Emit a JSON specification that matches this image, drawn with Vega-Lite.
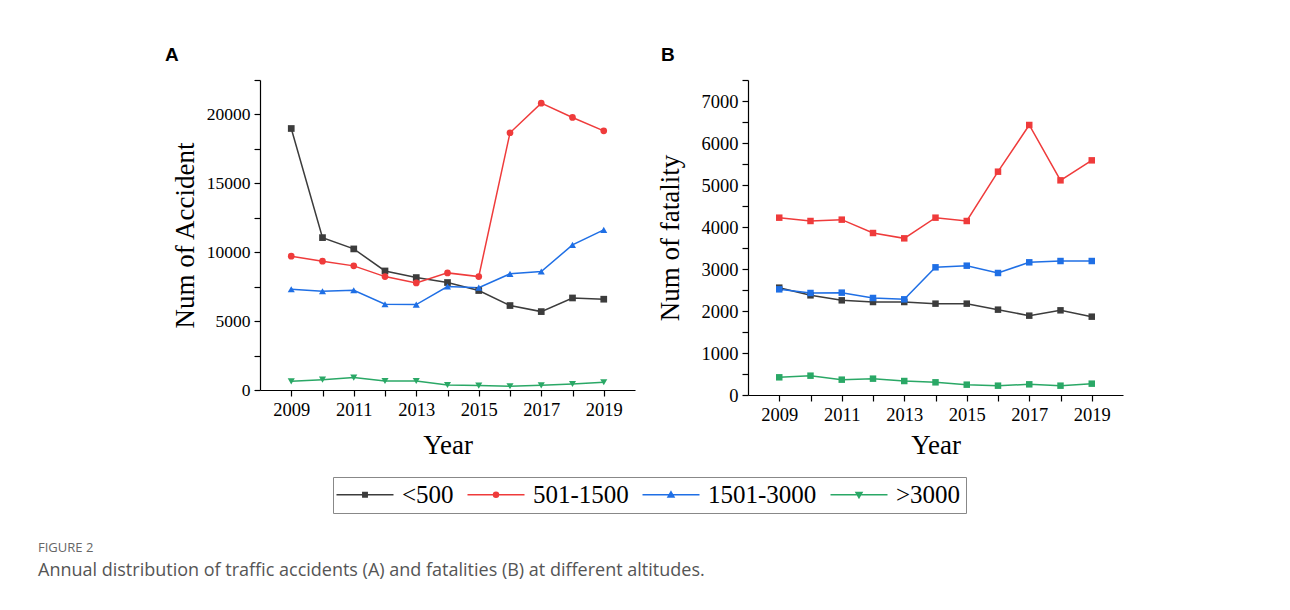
{
  "$schema": "https://vega.github.io/schema/vega-lite/v6.json",
  "background": "white",
  "padding": {"left": 38, "top": 46, "right": 10, "bottom": 20},
  "datasets": {
    "accident": [
      {"year": 2009, "group": "<500", "value": 18980},
      {"year": 2010, "group": "<500", "value": 11060},
      {"year": 2011, "group": "<500", "value": 10240},
      {"year": 2012, "group": "<500", "value": 8640},
      {"year": 2013, "group": "<500", "value": 8160},
      {"year": 2014, "group": "<500", "value": 7800},
      {"year": 2015, "group": "<500", "value": 7220},
      {"year": 2016, "group": "<500", "value": 6130},
      {"year": 2017, "group": "<500", "value": 5690},
      {"year": 2018, "group": "<500", "value": 6680},
      {"year": 2019, "group": "<500", "value": 6590},
      {"year": 2009, "group": "501-1500", "value": 9710},
      {"year": 2010, "group": "501-1500", "value": 9350},
      {"year": 2011, "group": "501-1500", "value": 9010},
      {"year": 2012, "group": "501-1500", "value": 8230},
      {"year": 2013, "group": "501-1500", "value": 7770},
      {"year": 2014, "group": "501-1500", "value": 8500},
      {"year": 2015, "group": "501-1500", "value": 8230},
      {"year": 2016, "group": "501-1500", "value": 18670},
      {"year": 2017, "group": "501-1500", "value": 20820},
      {"year": 2018, "group": "501-1500", "value": 19780},
      {"year": 2019, "group": "501-1500", "value": 18810},
      {"year": 2009, "group": "1501-3000", "value": 7310},
      {"year": 2010, "group": "1501-3000", "value": 7170},
      {"year": 2011, "group": "1501-3000", "value": 7240},
      {"year": 2012, "group": "1501-3000", "value": 6220},
      {"year": 2013, "group": "1501-3000", "value": 6200},
      {"year": 2014, "group": "1501-3000", "value": 7510},
      {"year": 2015, "group": "1501-3000", "value": 7430},
      {"year": 2016, "group": "1501-3000", "value": 8430},
      {"year": 2017, "group": "1501-3000", "value": 8600},
      {"year": 2018, "group": "1501-3000", "value": 10530},
      {"year": 2019, "group": "1501-3000", "value": 11620},
      {"year": 2009, "group": ">3000", "value": 630},
      {"year": 2010, "group": ">3000", "value": 750},
      {"year": 2011, "group": ">3000", "value": 900},
      {"year": 2012, "group": ">3000", "value": 650},
      {"year": 2013, "group": ">3000", "value": 650},
      {"year": 2014, "group": ">3000", "value": 360},
      {"year": 2015, "group": ">3000", "value": 320},
      {"year": 2016, "group": ">3000", "value": 270},
      {"year": 2017, "group": ">3000", "value": 340},
      {"year": 2018, "group": ">3000", "value": 440},
      {"year": 2019, "group": ">3000", "value": 560}
    ],
    "fatality": [
      {"year": 2009, "group": "<500", "value": 2556},
      {"year": 2010, "group": "<500", "value": 2373},
      {"year": 2011, "group": "<500", "value": 2254},
      {"year": 2012, "group": "<500", "value": 2214},
      {"year": 2013, "group": "<500", "value": 2214},
      {"year": 2014, "group": "<500", "value": 2175},
      {"year": 2015, "group": "<500", "value": 2175},
      {"year": 2016, "group": "<500", "value": 2032},
      {"year": 2017, "group": "<500", "value": 1889},
      {"year": 2018, "group": "<500", "value": 2016},
      {"year": 2019, "group": "<500", "value": 1865},
      {"year": 2009, "group": "501-1500", "value": 4222},
      {"year": 2010, "group": "501-1500", "value": 4143},
      {"year": 2011, "group": "501-1500", "value": 4175},
      {"year": 2012, "group": "501-1500", "value": 3857},
      {"year": 2013, "group": "501-1500", "value": 3730},
      {"year": 2014, "group": "501-1500", "value": 4222},
      {"year": 2015, "group": "501-1500", "value": 4143},
      {"year": 2016, "group": "501-1500", "value": 5317},
      {"year": 2017, "group": "501-1500", "value": 6429},
      {"year": 2018, "group": "501-1500", "value": 5111},
      {"year": 2019, "group": "501-1500", "value": 5587},
      {"year": 2009, "group": "1501-3000", "value": 2516},
      {"year": 2010, "group": "1501-3000", "value": 2429},
      {"year": 2011, "group": "1501-3000", "value": 2437},
      {"year": 2012, "group": "1501-3000", "value": 2310},
      {"year": 2013, "group": "1501-3000", "value": 2278},
      {"year": 2014, "group": "1501-3000", "value": 3040},
      {"year": 2015, "group": "1501-3000", "value": 3079},
      {"year": 2016, "group": "1501-3000", "value": 2905},
      {"year": 2017, "group": "1501-3000", "value": 3159},
      {"year": 2018, "group": "1501-3000", "value": 3190},
      {"year": 2019, "group": "1501-3000", "value": 3190},
      {"year": 2009, "group": ">3000", "value": 421},
      {"year": 2010, "group": ">3000", "value": 460},
      {"year": 2011, "group": ">3000", "value": 365},
      {"year": 2012, "group": ">3000", "value": 389},
      {"year": 2013, "group": ">3000", "value": 333},
      {"year": 2014, "group": ">3000", "value": 302},
      {"year": 2015, "group": ">3000", "value": 246},
      {"year": 2016, "group": ">3000", "value": 222},
      {"year": 2017, "group": ">3000", "value": 254},
      {"year": 2018, "group": ">3000", "value": 222},
      {"year": 2019, "group": ">3000", "value": 270}
    ]
  },
  "title": {
    "text": "FIGURE 2",
    "subtitle": "Annual distribution of traffic accidents (A) and fatalities (B) at different altitudes.",
    "orient": "bottom",
    "anchor": "start",
    "frame": "bounds",
    "dx": -127,
    "offset": 28,
    "font": "Open Sans",
    "fontSize": 13,
    "fontWeight": "normal",
    "color": "#666666",
    "subtitleFont": "Open Sans",
    "subtitleFontSize": 18,
    "subtitleColor": "#555555",
    "subtitlePadding": 7
  },
  "spacing": 21,
  "hconcat": [
    {
      "width": 375,
      "height": 310,
      "title": {"text": "A", "anchor": "start", "frame": "group", "dx": -95, "offset": 14, "font": "Liberation Sans", "fontSize": 19, "fontWeight": "bold", "color": "black"},
      "data": {"name": "accident"},
      "encoding": {
        "x": {"field": "year", "type": "quantitative", "scale": {"domain": [2008, 2020], "nice": false, "zero": false},
          "axis": {"title": "Year", "values": [2009, 2010, 2011, 2012, 2013, 2014, 2015, 2016, 2017, 2018, 2019], "labelExpr": "datum.value % 2 === 1 ? datum.label : ''", "format": "d", "titlePadding": 14}},
        "y": {"field": "value", "type": "quantitative", "scale": {"domain": [0, 22500], "nice": false},
          "axis": {"title": "Num of Accident", "values": [0, 2500, 5000, 7500, 10000, 12500, 15000, 17500, 20000, 22500], "labelExpr": "datum.value % 5000 === 0 ? datum.label : ''", "format": "d", "titlePadding": 7, "labelFontSize": 17.5}},
        "color": {"field": "group", "type": "nominal",
          "scale": {"domain": ["<500", "501-1500", "1501-3000", ">3000"], "range": ["#3c3c3c", "#ef3b3b", "#1f6fe5", "#2aa866"]},
          "legend": {
            "title": null,
            "orient": "none",
            "legendX": 73,
            "legendY": 397,
            "direction": "horizontal",
            "encode": {"symbols": {"update": {
              "shape": {"signal": "datum.value === '<500' ? 'M-1.4,0H4.3M1.23,-0.22H1.67V0.22H1.23Z' : datum.value === '501-1500' ? 'M-1.4,0H4.3M1.7,0A0.25,0.25,0,1,1,1.2,0A0.25,0.25,0,1,1,1.7,0Z' : datum.value === '1501-3000' ? 'M-1.4,0H4.3M1.45,-0.3L1.75,0.22L1.15,0.22Z' : 'M-1.4,0H4.3M1.45,0.3L1.75,-0.22L1.15,-0.22Z'"},
              "fill": {"signal": "scale('color', datum.value)"},
              "stroke": {"signal": "scale('color', datum.value)"},
              "strokeWidth": {"value": 1.5},
              "opacity": {"value": 1}
            }}}
          }}
      },
      "layer": [
        {"mark": {"type": "line", "strokeWidth": 1.5}},
        {"transform": [{"filter": "datum.group === '<500'"}], "mark": {"type": "point", "filled": true, "opacity": 1, "size": 45, "shape": "square"}},
        {"transform": [{"filter": "datum.group === '501-1500'"}], "mark": {"type": "point", "filled": true, "opacity": 1, "size": 45, "shape": "circle"}},
        {"transform": [{"filter": "datum.group === '1501-3000'"}], "mark": {"type": "point", "filled": true, "opacity": 1, "size": 50, "shape": "triangle-up"}},
        {"transform": [{"filter": "datum.group === '>3000'"}], "mark": {"type": "point", "filled": true, "opacity": 1, "size": 50, "shape": "triangle-down"}}
      ]
    },
    {
      "width": 375,
      "height": 315,
      "title": {"text": "B", "anchor": "start", "frame": "group", "dx": -87, "offset": 14, "font": "Liberation Sans", "fontSize": 19, "fontWeight": "bold", "color": "black"},
      "data": {"name": "fatality"},
      "encoding": {
        "x": {"field": "year", "type": "quantitative", "scale": {"domain": [2008, 2020], "nice": false, "zero": false},
          "axis": {"title": "Year", "values": [2009, 2010, 2011, 2012, 2013, 2014, 2015, 2016, 2017, 2018, 2019], "labelExpr": "datum.value % 2 === 1 ? datum.label : ''", "format": "d", "titlePadding": 9}},
        "y": {"field": "value", "type": "quantitative", "scale": {"domain": [0, 7500], "nice": false},
          "axis": {"title": "Num of fatality", "values": [0, 500, 1000, 1500, 2000, 2500, 3000, 3500, 4000, 4500, 5000, 5500, 6000, 6500, 7000, 7500], "labelExpr": "datum.value % 1000 === 0 ? datum.label : ''", "format": "d", "titlePadding": 17}},
        "color": {"field": "group", "type": "nominal",
          "scale": {"domain": ["<500", "501-1500", "1501-3000", ">3000"], "range": ["#3c3c3c", "#ef3b3b", "#1f6fe5", "#2aa866"]}}
      },
      "layer": [
        {"mark": {"type": "line", "strokeWidth": 1.5}},
        {"mark": {"type": "point", "filled": true, "opacity": 1, "size": 42, "shape": "square"}}
      ]
    }
  ],
  "config": {
    "view": {"stroke": null},
    "axis": {
      "labelFont": "Liberation Serif", "labelFontSize": 18.5, "labelColor": "black", "labelPadding": 4,
      "titleFont": "Liberation Serif", "titleFontSize": 27, "titleFontWeight": "normal", "titleColor": "black",
      "domainColor": "black", "tickColor": "black", "grid": false, "tickSize": 6, "domainWidth": 1.2, "tickWidth": 1.2
    },
    "legend": {
      "symbolSize": 400,
      "labelOffset": 39,
      "columnPadding": 10,
      "padding": 5,
      "strokeColor": "#888888",
      "labelFont": "Liberation Serif",
      "labelFontSize": 25,
      "labelColor": "black"
    }
  }
}
